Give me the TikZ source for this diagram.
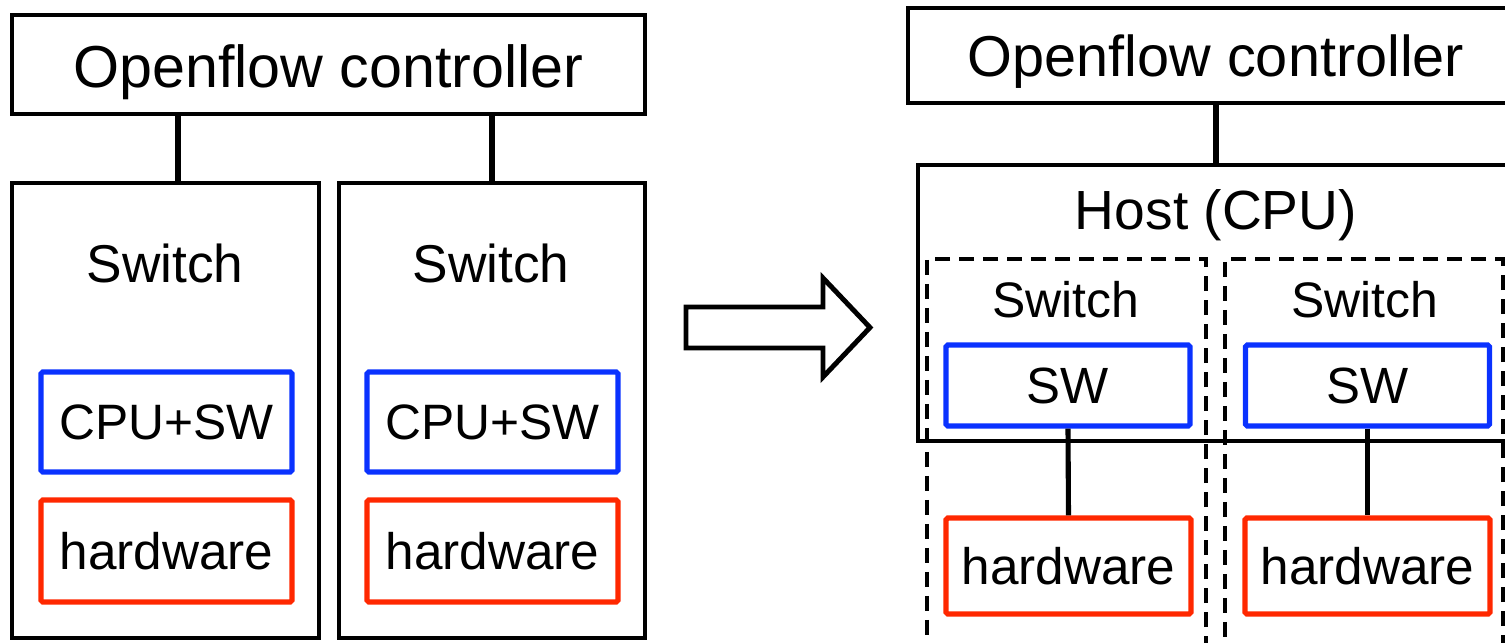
\documentclass[tikz,border=0pt]{standalone}
\usepackage{fontspec}
\setmainfont{Liberation Sans}
\usepackage{tikz}
\usetikzlibrary{calc}

\definecolor{swblue}{RGB}{10,50,255}
\definecolor{hwred}{RGB}{255,40,0}

\tikzset{
  box/.style={draw, line width=2.5pt, inner sep=0pt},
  swbox/.style={draw=swblue, line width=3pt, rounded corners=1pt, inner sep=0pt},
  hwbox/.style={draw=hwred, line width=3pt, rounded corners=1pt, inner sep=0pt},
  dbox/.style={draw, line width=2.2pt, dash pattern=on 0.3cm off 0.18cm, inner sep=0pt},
  wire/.style={line width=2.9pt}
}

\begin{document}
\begin{tikzpicture}
         \clip (0,0) rectangle (30.1,-12.84);
         \useasboundingbox (0,0) rectangle (30.1,-12.84);

          \node[box, minimum width=12.66cm, minimum height=1.98cm] (ctrlA) at (6.57,-1.29) {};
          \node[font=\fontsize{33.7}{36}\selectfont] (ctrlAlbl) at (6.57,-1.45) {Openflow controller};
          \node[box, minimum width=6.14cm, minimum height=9.1cm] (swA) at (3.31,-8.21) {};
          \node[box, minimum width=6.12cm, minimum height=9.1cm] (swB) at (9.84,-8.21) {};
          \node[font=\fontsize{30.3}{32}\selectfont] (swAlbl) at (3.30,-5.26) {Switch};
          \node[font=\fontsize{30.3}{32}\selectfont] (swBlbl) at (9.82,-5.26) {Switch};
          \node[swbox, minimum width=5.02cm, minimum height=2cm, font=\fontsize{28.3}{30}\selectfont] (cpuA) at (3.33,-8.44) {CPU+SW};
          \node[swbox, minimum width=5.02cm, minimum height=2cm, font=\fontsize{28.3}{30}\selectfont] (cpuB) at (9.85,-8.44) {CPU+SW};
          \node[hwbox, minimum width=5.02cm, minimum height=2.04cm, font=\fontsize{29.2}{31}\selectfont] (hwA) at (3.33,-11.02) {hardware};
          \node[hwbox, minimum width=5.02cm, minimum height=2.04cm, font=\fontsize{29.2}{31}\selectfont] (hwB) at (9.85,-11.02) {hardware};
          \draw[wire] ([xshift=0.25cm]swA.north) -- ([xshift=0.25cm]swA.north |- ctrlA.south);
          \draw[wire] (swB.north) -- (swB.north |- ctrlA.south);

          \draw[line width=2.8pt, line join=miter] (13.72,-6.14) -- (16.46,-6.14) -- (16.46,-5.56) -- (17.40,-6.55)
               -- (16.46,-7.54) -- (16.46,-6.96) -- (13.72,-6.96) -- cycle;

          \node[box, minimum width=12.32cm, minimum height=1.9cm] (ctrlB) at (24.32,-1.11) {};
          \node[font=\fontsize{32.8}{35}\selectfont] (ctrlBlbl) at (24.32,-1.24) {Openflow controller};
          \node[box, minimum width=11.92cm, minimum height=5.52cm] (host) at (24.32,-6.06) {};
          \node[font=\fontsize{31.4}{33}\selectfont] (hostlbl) at (24.32,-4.30) {Host (CPU)};
          \draw[wire] (ctrlB.south) -- (host.north);
          \node[dbox, minimum width=5.58cm, minimum height=8.02cm] (dA) at (21.33,-9.19) {};
          \node[dbox, minimum width=5.56cm, minimum height=8.02cm] (dB) at (27.28,-9.19) {};
          \node[font=\fontsize{28.4}{30}\selectfont] (dAlbl) at (21.32,-6.0) {Switch};
          \node[font=\fontsize{28.4}{30}\selectfont] (dBlbl) at (27.30,-6.0) {Switch};
          \node[swbox, fill=white, minimum width=4.88cm, minimum height=1.62cm, font=\fontsize{29}{31}\selectfont] (sfA) at (21.36,-7.71) {SW};
          \node[swbox, fill=white, minimum width=4.88cm, minimum height=1.62cm, font=\fontsize{29}{31}\selectfont] (sfB) at (27.35,-7.71) {SW};
          \node[hwbox, minimum width=4.9cm, minimum height=1.92cm, font=\fontsize{29.2}{31}\selectfont] (hwC) at (21.37,-11.32) {hardware};
          \node[hwbox, minimum width=4.9cm, minimum height=1.92cm, font=\fontsize{29.2}{31}\selectfont] (hwD) at (27.35,-11.32) {hardware};
          \draw[wire] (sfA.south) -- (hwC.north);
          \draw[wire] (sfB.south) -- (hwD.north);
      \end{tikzpicture}
\end{document}
